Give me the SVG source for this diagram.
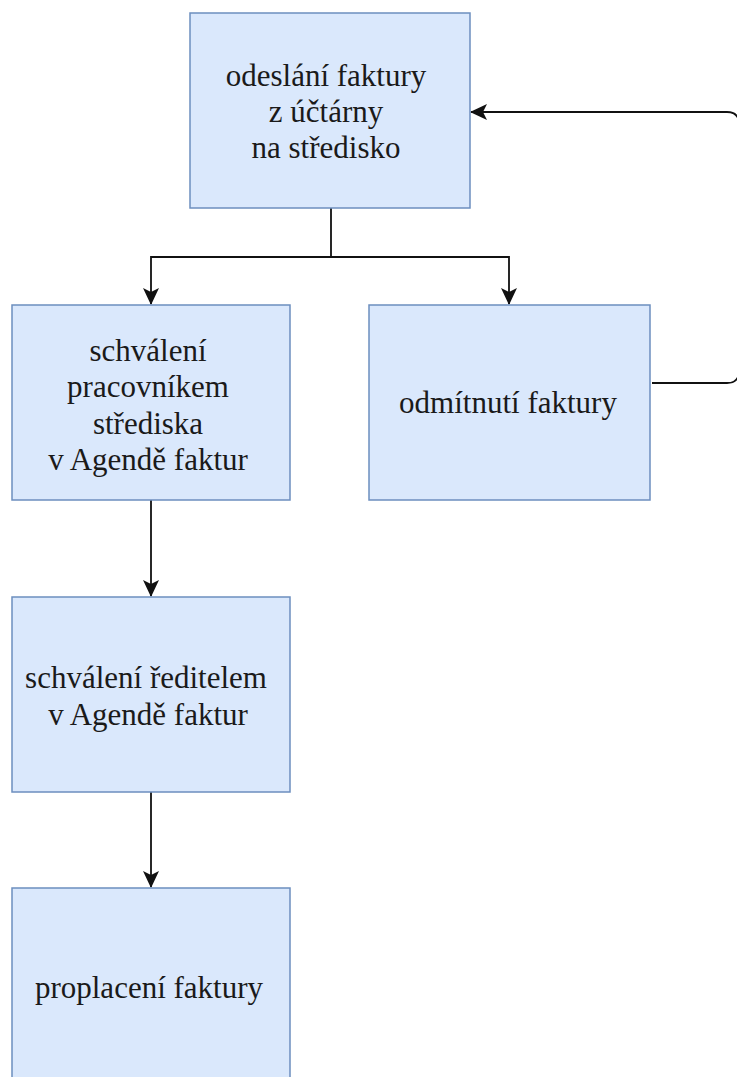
<svg xmlns="http://www.w3.org/2000/svg" width="737" height="1077" viewBox="0 0 737 1077">
  <style>
    .box { fill: #dae8fc; stroke: #6c8ebf; stroke-width: 1.5; }
    .lbl { font-family: "Liberation Serif", "Times New Roman", serif; font-size: 31px; fill: #1a1a1a; text-anchor: middle; }
    .edge { fill: none; stroke: #111; stroke-width: 1.8; }
  </style>
  <defs>
    <marker id="arrow" viewBox="0 0 17 16" refX="16" refY="8" markerWidth="17" markerHeight="16" markerUnits="userSpaceOnUse" orient="auto">
      <path d="M0,0 L17,8 L0,16 L4,8 Z" fill="#111"/>
    </marker>
  </defs>

  <rect width="737" height="1077" fill="#ffffff"/>

  <g id="connectors">
    <path class="edge" d="M331,208 V257 H151 V304" marker-end="url(#arrow)"/>
    <path class="edge" d="M331,257 H509 V304" marker-end="url(#arrow)"/>
    <path class="edge" d="M151,500 V596" marker-end="url(#arrow)"/>
    <path class="edge" d="M151,792 V887" marker-end="url(#arrow)"/>
    <path class="edge" d="M652,383 H727 Q739,383 739,371 V124 Q739,112 727,112 H471" marker-end="url(#arrow)"/>
  </g>

  <g id="node-odeslani">
    <rect class="box" x="190" y="13" width="280" height="195"/>
    <text class="lbl" x="326" y="86">odeslání faktury</text>
    <text class="lbl" x="326" y="122">z účtárny</text>
    <text class="lbl" x="326" y="158">na středisko</text>
  </g>

  <g id="node-schvaleni-pracovnikem">
    <rect class="box" x="12" y="305" width="278" height="195"/>
    <text class="lbl" x="148" y="361">schválení</text>
    <text class="lbl" x="148" y="397">pracovníkem</text>
    <text class="lbl" x="148" y="434">střediska</text>
    <text class="lbl" x="148" y="470">v Agendě faktur</text>
  </g>

  <g id="node-odmitnuti">
    <rect class="box" x="369" y="305" width="281" height="195"/>
    <text class="lbl" x="508" y="413">odmítnutí faktury</text>
  </g>

  <g id="node-schvaleni-reditelem">
    <rect class="box" x="12" y="597" width="278" height="195"/>
    <text class="lbl" x="146" y="688">schválení ředitelem</text>
    <text class="lbl" x="148" y="725">v Agendě faktur</text>
  </g>

  <g id="node-proplaceni">
    <rect class="box" x="12" y="888" width="278" height="200"/>
    <text class="lbl" x="149" y="998">proplacení faktury</text>
  </g>
</svg>
